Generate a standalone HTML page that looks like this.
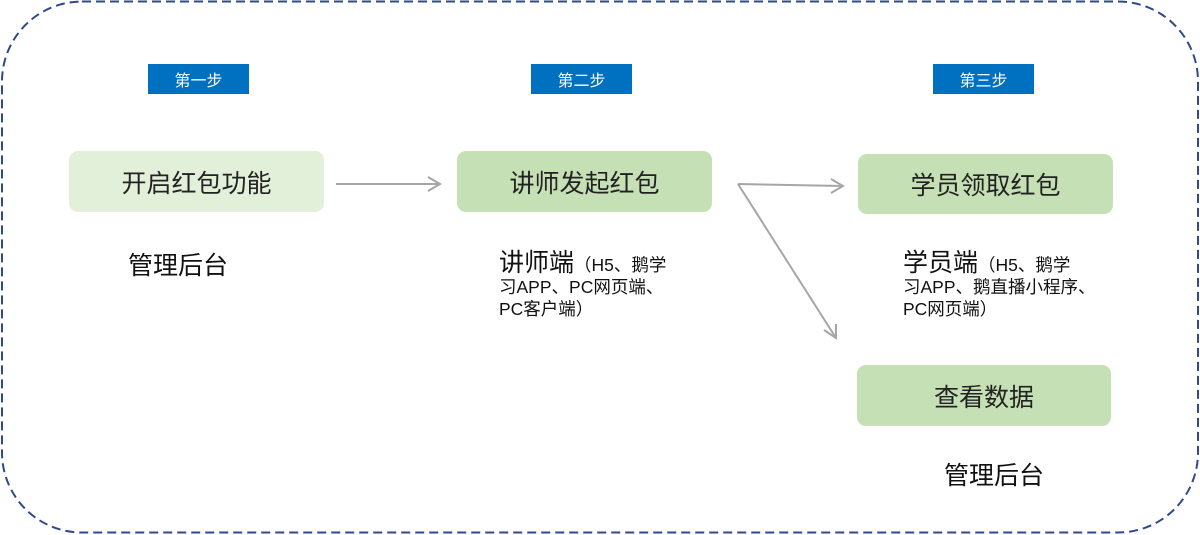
<!DOCTYPE html>
<html><head><meta charset="utf-8"><style>
body{margin:0;width:1200px;height:535px;background:#fff;overflow:hidden;position:relative;font-family:"Liberation Sans","Noto Sans CJK SC",sans-serif;}
.b{position:absolute;border-radius:9px;display:flex;align-items:center;justify-content:center;font-size:25px;color:#222;}
.s{position:absolute;background:#0070c0;color:#fff;font-size:16px;display:flex;align-items:center;justify-content:center;}
.t{position:absolute;color:#111;}
.big{font-size:25px;}
.sm{font-size:17.5px;line-height:22px;}
</style></head><body>
<svg width="1200" height="535" style="position:absolute;left:0;top:0">
<rect x="2" y="1.5" width="1196" height="531" rx="80" ry="80" fill="none" stroke="#2f4a8a" stroke-width="2" stroke-dasharray="9,5"/>
<g stroke="#a6a6a6" stroke-width="2" fill="none">
<line x1="336" y1="184" x2="440" y2="184"/><polyline points="428,177 440,184 428,191"/>
<line x1="738" y1="184" x2="843" y2="186"/><polyline points="831,179 843,186 831,193"/>
<line x1="738" y1="184" x2="836" y2="338"/><polyline points="824,330 836,338 836,324"/>
</g></svg>
<div class="s" style="left:148px;top:64px;width:101px;height:30px">第一步</div>
<div class="s" style="left:531px;top:64px;width:101px;height:30px">第二步</div>
<div class="s" style="left:933px;top:64px;width:101px;height:30px">第三步</div>
<div class="b" style="left:69px;top:151px;width:255px;height:61px;background:#e2efd9">开启红包功能</div>
<div class="b" style="left:457px;top:151px;width:255px;height:61px;background:#c5e0b4">讲师发起红包</div>
<div class="b" style="left:858px;top:154px;width:255px;height:60px;background:#c5e0b4">学员领取红包</div>
<div class="b" style="left:857px;top:365px;width:254px;height:61px;background:#c5e0b4">查看数据</div>
<div class="t big" style="left:128px;top:246px">管理后台</div>
<div class="t big" style="left:944px;top:456px">管理后台</div>
<div class="t sm" style="left:499px;top:252px;width:190px"><span class="big">讲师端</span>（H5、鹅学<br>习APP、PC网页端、<br>PC客户端）</div>
<div class="t sm" style="left:903px;top:252px;width:220px"><span class="big">学员端</span>（H5、鹅学<br>习APP、鹅直播小程序、<br>PC网页端）</div>
</body></html>
